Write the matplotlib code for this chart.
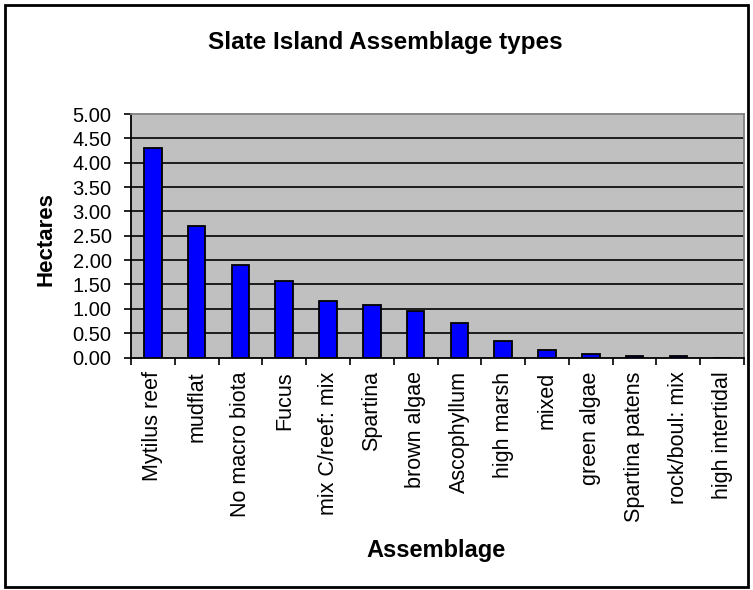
import matplotlib
matplotlib.use("Agg")
import matplotlib.pyplot as plt
from matplotlib.patches import Rectangle
import numpy as np

plt.rcParams['font.family'] = ['Liberation Sans', 'DejaVu Sans']

categories = ["Mytilus reef", "mudflat", "No macro biota", "Fucus", "mix C/reef: mix",
              "Spartina", "brown algae", "Ascophyllum", "high marsh", "mixed",
              "green algae", "Spartina patens", "rock/boul: mix", "high intertidal"]
hectares = [4.31, 2.71, 1.90, 1.57, 1.16, 1.07, 0.95, 0.70, 0.33, 0.16, 0.08, 0.03, 0.03, 0.0]
yticks = [0.0, 0.5, 1.0, 1.5, 2.0, 2.5, 3.0, 3.5, 4.0, 4.5, 5.0]

W, H = 753, 590
fig = plt.figure(figsize=(W / 100, H / 100), dpi=100)
fig.patch.set_facecolor("white")

# plot area in pixels
left, right, top, bottom = 131, 744, 114, 357.5
ax = fig.add_axes([left / W, 1 - bottom / H, (right - left) / W, (bottom - top) / H])
ax.set_facecolor("#C0C0C0")

x = np.arange(len(categories))
ax.bar(x, hectares, width=0.4, color="#0000FF", edgecolor="black", linewidth=1.3, zorder=3)

ax.set_xlim(-0.5, len(categories) - 0.5)
ax.set_ylim(0, 5)
ax.set_yticks(yticks)
ax.set_yticklabels([f"{v:.2f}" for v in yticks], fontsize=14.5)
for v in yticks[1:-1]:
    ax.axhline(v, color="black", linewidth=1.2, zorder=1)

# category labels at bar centres, ticks between categories
ax.set_xticks(x)
ax.set_xticklabels(categories, rotation=90, fontsize=15.5)
ax.tick_params(axis="x", length=0, pad=10)
ax.set_xticks(np.arange(-0.5, len(categories), 1.0), minor=True)
ax.tick_params(axis="x", which="minor", length=5, width=1.2, direction="out")
ax.tick_params(axis="y", length=5, width=1.2, direction="out", pad=9)

for s in ["left", "bottom"]:
    ax.spines[s].set_color("black")
    ax.spines[s].set_linewidth(1.3)
for s in ["top", "right"]:
    ax.spines[s].set_color("#808080")
    ax.spines[s].set_linewidth(1.3)

fig.text(385 / W, 1 - 43 / H, "Slate Island Assemblage types", ha="center", va="center",
         fontsize=17.5, fontweight="bold")
fig.text(46 / W, 1 - 239 / H, "Hectares", ha="center", va="center", rotation=90,
         fontsize=16, fontweight="bold")
fig.text(436 / W, 1 - 550 / H, "Assemblage", ha="center", va="center",
         fontsize=17, fontweight="bold")

fig.patches.append(Rectangle((5 / W, 3 / H), 743 / W, 582 / H, transform=fig.transFigure,
                             fill=False, edgecolor="black", linewidth=2))

fig.savefig("out.png", dpi=100)
